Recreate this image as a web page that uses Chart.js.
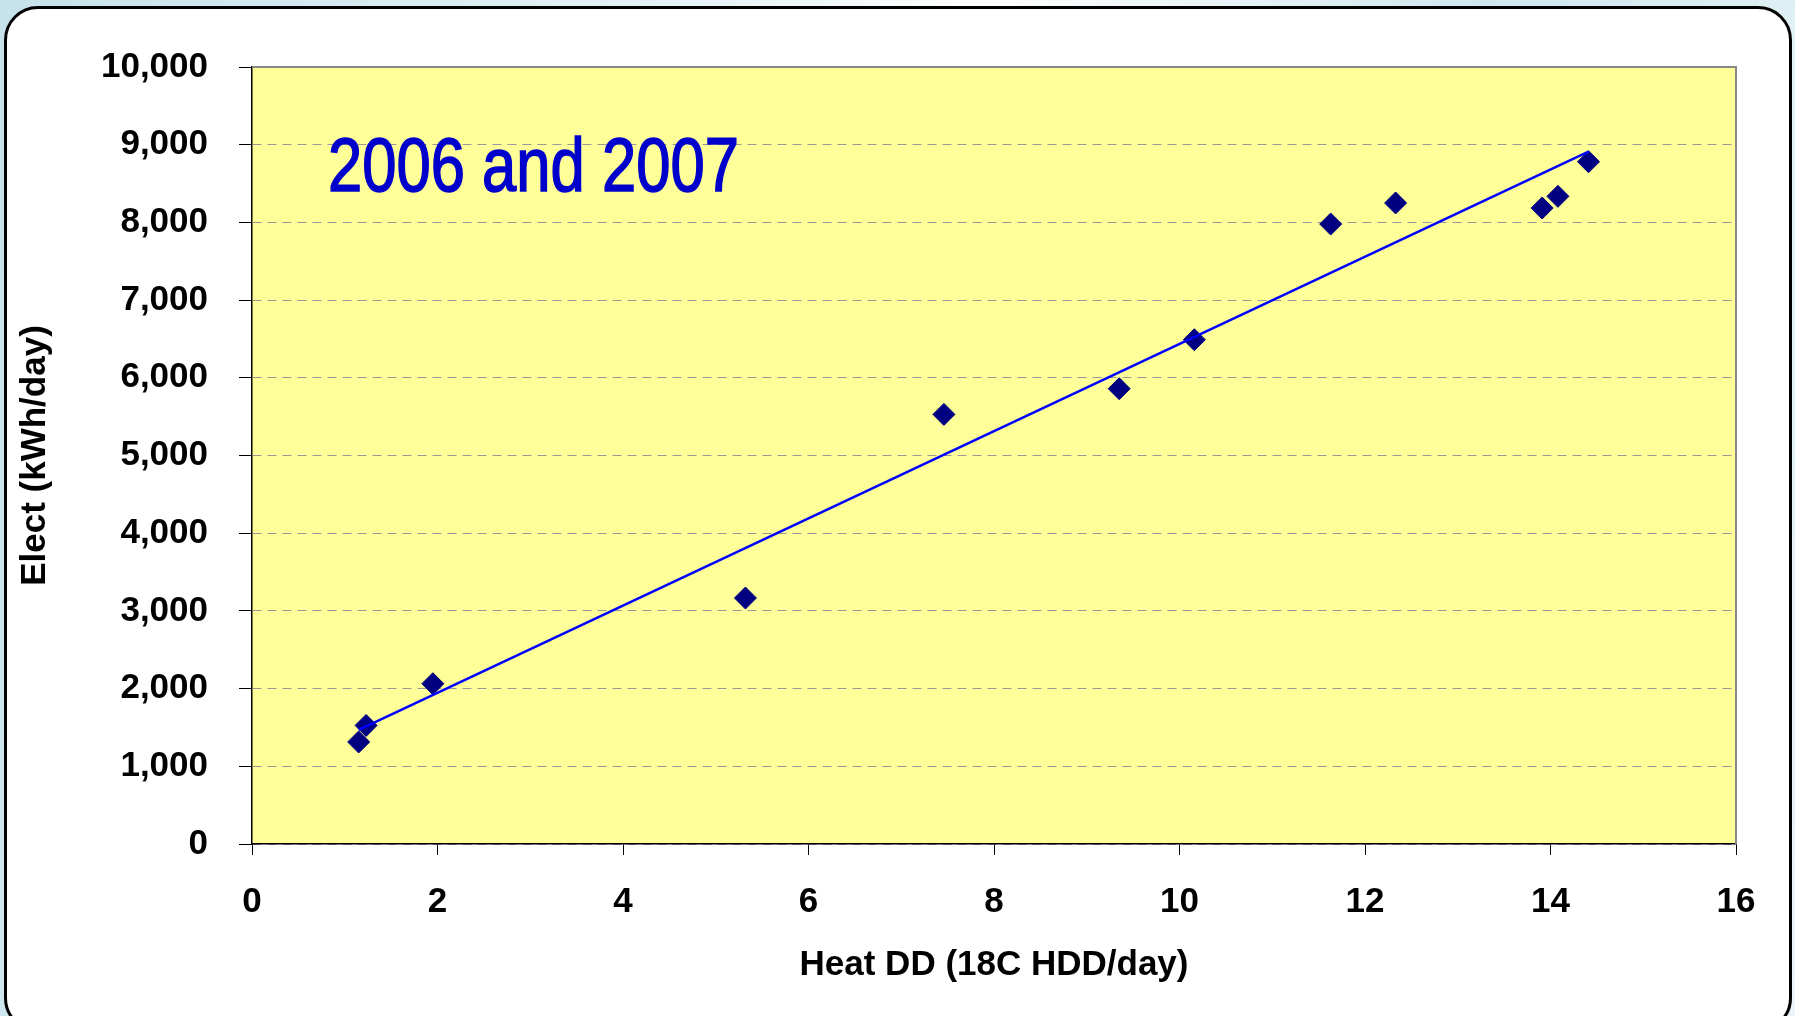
<!DOCTYPE html>
<html>
<head>
<meta charset="utf-8">
<script src="https://cdn.jsdelivr.net/npm/chart.js@4"></script>
<style>
  html, body { margin: 0; padding: 0; }
  body {
    width: 1795px; height: 1016px; overflow: hidden; position: relative;
    background: linear-gradient(100deg, #c6e2ea 0%, #e6f3f7 35%, #ffffff 50%, #cfe7ee 75%, #e9f5f8 100%);
  }
  .frame {
    position: absolute; left: 4px; top: 6px; width: 1782px; height: 1020px;
    background: #fff; border: 3px solid #000; border-radius: 34px;
  }
  #chart { position: absolute; left: 0; top: 0; }
</style>
</head>
<body>
<div class="frame"></div>
<canvas id="chart" width="1795" height="1016"></canvas>
<script>
// observed points
const heatDD = [1.15, 1.23, 1.95, 5.32, 7.46, 9.35, 10.16, 11.63, 12.33, 13.91, 14.08, 14.41];
const elect = [1313, 1526, 2063, 3166, 5529, 5860, 6490, 7979, 8250, 8185, 8335, 8781];

// linear trendline end points as drawn
const trendX = [1.15, 14.41];
const trendY = [1470, 8910];

const annotText = "2006 and 2007";
const annotAt = { x: 0.82, y: 8410 };

const labelFont = { family: "'Liberation Sans', Arial, sans-serif", size: 35, weight: "bold" };

const plotFrame = {
  id: "plotFrame",
  beforeDraw(chart) {
    const { ctx, chartArea: a } = chart;
    ctx.save();
    ctx.fillStyle = "#FFFF99";
    ctx.fillRect(a.left, a.top, a.right - a.left, a.bottom - a.top);
    ctx.restore();
  },
  beforeDatasetsDraw(chart) {
    const { ctx, chartArea: a, scales } = chart;
    ctx.save();
    ctx.strokeStyle = "#888";
    ctx.lineWidth = 2;
    ctx.beginPath();
    ctx.moveTo(a.left, a.top);
    ctx.lineTo(a.right, a.top);
    ctx.lineTo(a.right, a.bottom);
    ctx.stroke();
    // annotation text, squeezed like Arial Narrow
    ctx.fillStyle = "#0000CC";
    ctx.strokeStyle = "#0000CC";
    ctx.lineWidth = 1.6;
    ctx.font = "76px 'Liberation Sans', Arial, sans-serif";
    ctx.textBaseline = "alphabetic";
    ctx.translate(scales.x.getPixelForValue(annotAt.x), scales.y.getPixelForValue(annotAt.y));
    ctx.scale(0.81, 1);
    ctx.fillText(annotText, 0, 0);
    ctx.strokeText(annotText, 0, 0);
    ctx.restore();
  }
};

new Chart(document.getElementById("chart"), {
  type: "scatter",
  data: {
    datasets: [
      {
        data: trendX.map((x, i) => ({ x, y: trendY[i] })),
        showLine: true,
        borderColor: "#0000FF",
        borderWidth: 2.5,
        pointRadius: 0
      },
      {
        data: heatDD.map((x, i) => ({ x, y: elect[i] })),
        pointStyle: "rectRot",
        pointRadius: 11,
        backgroundColor: "#000080",
        borderColor: "#000080",
        borderWidth: 1
      }
    ]
  },
  options: {
    responsive: false,
    animation: false,
    layout: { padding: { left: 0, top: 67, right: 59, bottom: 0 } },
    plugins: { legend: { display: false }, tooltip: { enabled: false } },
    scales: {
      x: {
        type: "linear",
        min: 0, max: 16,
        afterFit: s => { s.height = 172; },
        ticks: { stepSize: 2, color: "#000", font: labelFont, padding: 26, maxRotation: 0, autoSkip: false },
        grid: { drawOnChartArea: false, drawTicks: true, tickLength: 11, tickColor: "#000", tickWidth: 1 },
        border: { color: "#000", width: 1.5 },
        title: { display: true, text: "Heat DD (18C HDD/day)", color: "#000", font: labelFont, padding: { top: 0, bottom: 30 } }
      },
      y: {
        min: 0, max: 10000,
        afterFit: s => { s.width = 252; },
        ticks: {
          stepSize: 1000, color: "#000", font: labelFont, padding: 31,
          callback: v => v.toLocaleString("en-US")
        },
        grid: {
          color: "#999", lineWidth: 1,
          tickLength: 13, tickColor: "#000", tickWidth: 1, tickBorderDash: []
        },
        border: { color: "#000", width: 1.5, dash: [9, 6] },
        title: { display: true, text: "Elect (kWh/day)", color: "#000", font: labelFont, padding: { top: 14, bottom: 0 } }
      }
    }
  },
  plugins: [plotFrame]
});
</script>
</body>
</html>
